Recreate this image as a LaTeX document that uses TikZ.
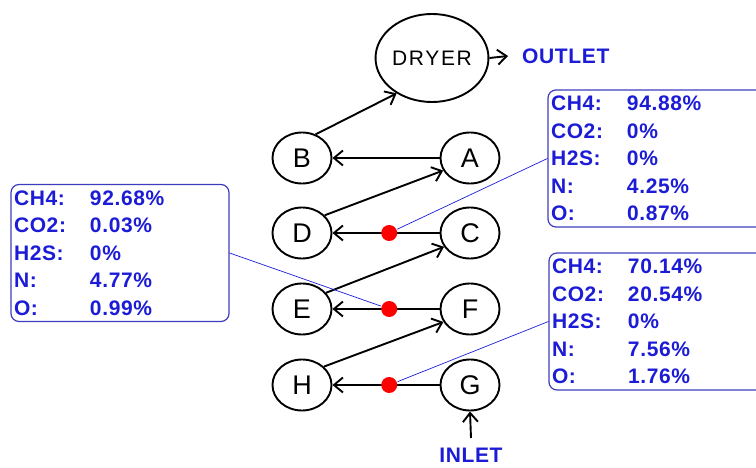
\documentclass[tikz,border=0pt]{standalone}
\usepackage{fontspec}
\setmainfont{Liberation Sans}[LetterSpace=3]
\usetikzlibrary{arrows.meta,shapes.geometric}
\definecolor{gasblue}{RGB}{28,28,215}
\definecolor{frameblue}{RGB}{60,60,190}
\newcommand{\gasrow}[2]{\makebox[76pt][l]{#1}#2}

\begin{document}
\begin{tikzpicture}[
        x=1pt, y=-1pt,
        >={Straight Barb[length=9pt,width=15pt]},
        vessel/.style={draw, ellipse, line width=1.9pt, minimum width=59pt, minimum height=51pt, inner sep=0pt, font=\fontsize{27}{27}\selectfont},
        dryerbox/.style={vessel, minimum width=99pt, minimum height=88pt, font=\fontsize{21}{21}\selectfont\addfontfeature{LetterSpace=8}},
        pipe/.style={->, line width=1.9pt},
        reddot/.style={circle, fill=red, minimum size=16pt, inner sep=0pt},
        gasbox/.style={draw=frameblue, line width=1.2pt, rounded corners=8pt, fill=white, text=gasblue, align=left, text width=212pt, inner xsep=3pt, minimum height=137pt, font=\bfseries\fontsize{21}{27.5}\selectfont},
        probe/.style={draw=gasblue, line width=0.7pt},
        tag/.style={text=gasblue, inner sep=0pt, font=\bfseries\fontsize{21}{21}\selectfont}
    ]
        \useasboundingbox (0,0) rectangle (756,468);
        \node[dryerbox] (dryer) at (432,58) {DRYER};
        \node[vessel] (B) at (302,158) {B};
        \node[vessel] (A) at (470,158) {A};
        \node[vessel] (D) at (302,233) {D};
        \node[vessel] (C) at (470,233) {C};
        \node[vessel] (E) at (302,309) {E};
        \node[vessel] (F) at (470,309) {F};
        \node[vessel] (H) at (302,385) {H};
        \node[vessel] (G) at (470,385) {G};
        \node[tag, anchor=west] (outlet) at (522,56) {OUTLET};
        \node[tag, anchor=north] (inlet) at (471,448) {INLET};
        \node[gasbox] (upperbox) at (657,158.5) {\gasrow{CH4:}{94.88\%}\\ \gasrow{CO2:}{0\%}\\ \gasrow{H2S:}{0\%}\\ \gasrow{N:}{4.25\%}\\ \gasrow{O:}{0.87\%}};
        \node[gasbox] (leftbox) at (120,253) {\gasrow{CH4:}{92.68\%}\\ \gasrow{CO2:}{0.03\%}\\ \gasrow{H2S:}{0\%}\\ \gasrow{N:}{4.77\%}\\ \gasrow{O:}{0.99\%}};
        \node[gasbox] (lowerbox) at (658,321.5) {\gasrow{CH4:}{70.14\%}\\ \gasrow{CO2:}{20.54\%}\\ \gasrow{H2S:}{0\%}\\ \gasrow{N:}{7.56\%}\\ \gasrow{O:}{1.76\%}};
        \draw[pipe] (dryer.east) -- ([xshift=-14pt]outlet.west);
        \draw[pipe] ([yshift=10pt]inlet.north) -- (G.south);
        \draw[pipe] (A) -- (B);
        \draw[pipe] (B.60) -- (dryer.225);
        \draw[pipe] (D.38) -- (A.205);
        \draw[pipe] (E.34) -- (C.208);
        \draw[pipe] (H.40) -- (F.206);
        \draw[pipe] (C) -- node[reddot, pos=0.47] (dotcd) {} (D);
        \draw[pipe] (F) -- node[reddot, pos=0.47] (dotfe) {} (E);
        \draw[pipe] (G) -- node[reddot, pos=0.47] (dotgh) {} (H);
        \draw[probe] (dotcd) -- (upperbox.west);
        \draw[probe] (dotfe) -- (leftbox.east);
        \draw[probe] (dotgh) -- (lowerbox.west);
    \end{tikzpicture}
\end{document}
